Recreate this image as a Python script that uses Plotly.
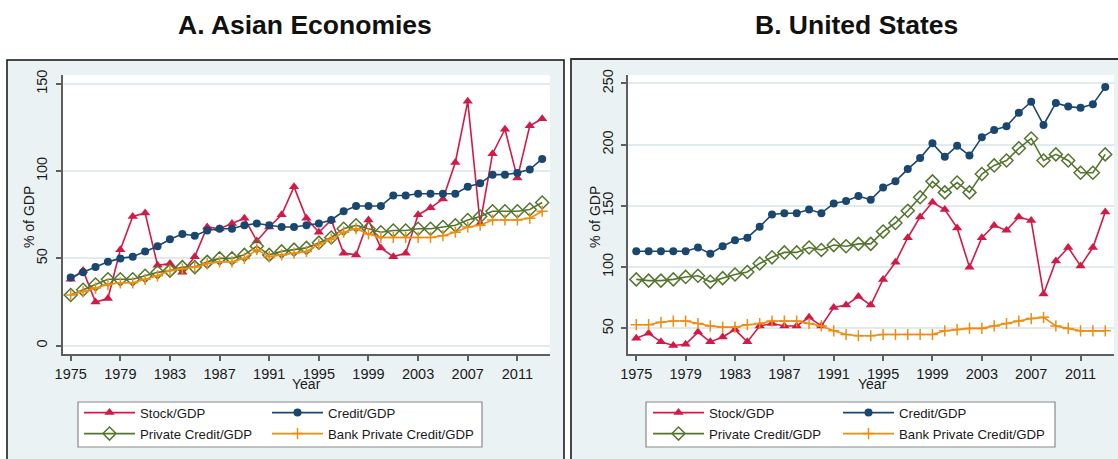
import plotly.graph_objects as go

W, H = 1118, 459

years = list(range(1975, 2014))
tick_years = list(range(1975, 2012, 4))

# ---- Panel A: Asian Economies ----
asia_stock = [38, 43, 25, 27, 55, 74, 76, 46, 47, 42, 51, 68, 67, 70, 73, 60, 68, 75, 91, 73,
              65, 72, 53, 52, 72, 56, 51, 53, 75, 79, 84, 105, 140, 70, 110, 124, 96, 126, 130]
asia_credit = [39, 42, 45, 48, 50, 51, 54, 57, 61, 64, 63, 66, 67, 67, 69, 70, 69, 68, 68, 69,
               70, 72, 77, 80, 80, 80, 86, 86, 87, 87, 87, 87, 91, 93, 98, 98, 99, 101, 107]
asia_private = [29, 32, 35, 38, 38, 38, 40, 42, 43, 45, 45, 48, 50, 50, 52, 57, 52, 54, 55, 56,
                59, 62, 67, 69, 67, 65, 66, 66, 67, 67, 68, 69, 72, 74, 77, 77, 77, 78, 82]
asia_bank = [29, 31, 33, 35, 36, 36, 38, 40, 43, 44, 45, 47, 48, 48, 50, 55, 51, 52, 53, 54,
             58, 61, 65, 67, 64, 62, 62, 62, 62, 62, 63, 65, 68, 69, 72, 72, 72, 73, 77]

# ---- Panel B: United States ----
us_stock = [42, 46, 39, 36, 37, 47, 39, 43, 49, 39, 52, 54, 52, 52, 59, 52, 67, 69, 76, 69,
            90, 104, 124, 141, 153, 147, 132, 100, 124, 134, 130, 141, 138, 78, 105, 116, 101, 116, 145]
us_credit = [113, 113, 113, 113, 113, 116, 111, 117, 122, 124, 133, 143, 144, 144, 147, 144, 152, 154, 158, 155,
             165, 170, 180, 189, 201, 190, 199, 191, 206, 212, 215, 226, 235, 216, 234, 231, 230, 233, 247]
us_private = [90, 89, 89, 90, 92, 93, 88, 91, 94, 96, 103, 108, 112, 112, 116, 114, 118, 117, 119, 119,
              129, 136, 146, 157, 170, 161, 169, 161, 176, 183, 187, 197, 205, 187, 192, 187, 177, 177, 192]
us_bank = [53, 53, 55, 56, 56, 54, 52, 51, 51, 53, 54, 56, 56, 56, 54, 52, 48, 45, 44, 44,
           45, 45, 45, 45, 45, 48, 49, 50, 50, 52, 54, 56, 58, 59, 52, 50, 48, 48, 48]

series_names = ["Stock/GDP", "Credit/GDP", "Private Credit/GDP", "Bank Private Credit/GDP"]

RED = "#D11A48"
NAVY = "#1A476F"
GREEN = "#55752F"
ORANGE = "#EE8D10"
BG = "#EAF2F3"
GRID = "#E1EBEE"
AXIS = "#5E5E5E"
FONT = "Liberation Sans, Arial, sans-serif"

styles = [
    dict(color=RED, symbol="triangle-up", size=9, line=dict(width=0)),
    dict(color=NAVY, symbol="circle", size=8, line=dict(width=0)),
    dict(color=GREEN, symbol="diamond-open", size=10, line=dict(color=GREEN, width=1.5)),
    dict(color=ORANGE, symbol="cross-thin-open", size=8, line=dict(color=ORANGE, width=1.5)),
]
line_colors = [RED, NAVY, GREEN, ORANGE]


def px_x(p):
    return p / W


def px_y(p):
    return 1 - p / H


fig = go.Figure()

# each panel has two one-row legends (row 1: first two series, row 2: last two)
panels = [
    ([asia_stock, asia_credit, asia_private, asia_bank], "x", "y",
     ["legend", "legend", "legend2", "legend2"], [122, 170, 122, 170]),
    ([us_stock, us_credit, us_private, us_bank], "x2", "y2",
     ["legend3", "legend3", "legend4", "legend4"], [124, 170, 124, 170]),
]
for data, xa, ya, lgs, lws in panels:
    for name, vals, st, lc, lg, lw in zip(series_names, data, styles, line_colors, lgs, lws):
        fig.add_trace(go.Scatter(
            x=years, y=vals, name=name, mode="lines+markers",
            line=dict(color=lc, width=1.6),
            marker=st, xaxis=xa, yaxis=ya, legend=lg, legendwidth=lw,
        ))

# plot area pixel geometry
A_x0, A_x1 = 63, 550
B_x0, B_x1 = 628, 1114
P_y0, P_y1 = 75, 354

axis_common = dict(
    showline=True, linecolor=AXIS, linewidth=1.5, mirror=False,
    ticks="outside", ticklen=5, tickwidth=1.5, tickcolor=AXIS,
    tickfont=dict(family=FONT, size=14.5, color="#1a1a1a"),
    zeroline=False,
)

fig.update_layout(
    xaxis=dict(domain=[px_x(A_x0), px_x(A_x1)], range=[1974.38, 2013.63], anchor="y",
               tickvals=tick_years, showgrid=False, ticklabelstandoff=1, **axis_common),
    yaxis=dict(domain=[px_y(P_y1), px_y(P_y0)], range=[-4.8, 155.1], anchor="x",
               tickvals=[0, 50, 100, 150], tickangle=-90, showgrid=True, ticklabelstandoff=3,
               gridcolor=GRID, gridwidth=2, **axis_common),
    xaxis2=dict(domain=[px_x(B_x0), px_x(B_x1)], range=[1974.33, 2013.71], anchor="y2",
                tickvals=tick_years, showgrid=False, ticklabelstandoff=1, **axis_common),
    yaxis2=dict(domain=[px_y(P_y1), px_y(P_y0)], range=[29.1, 256.8], anchor="x2",
                tickvals=[50, 100, 150, 200, 250], tickangle=-90, showgrid=True, ticklabelstandoff=2,
                gridcolor=GRID, gridwidth=2, **axis_common),
)

legend_common = dict(
    orientation="h", xanchor="left", yanchor="middle",
    bgcolor="rgba(0,0,0,0)", borderwidth=0,
    font=dict(family=FONT, size=13.2, color="#1a1a1a"),
    itemwidth=51, tracegroupgap=0,
    itemclick=False, itemdoubleclick=False,
)
fig.update_layout(
    legend=dict(x=px_x(79), y=px_y(413), **legend_common),
    legend2=dict(x=px_x(79), y=px_y(434), **legend_common),
    legend3=dict(x=px_x(648), y=px_y(413), **legend_common),
    legend4=dict(x=px_x(648), y=px_y(434), **legend_common),
)

shapes = []
# outer panel boxes
shapes.append(dict(type="rect", xref="paper", yref="paper", x0=px_x(7), x1=px_x(564),
                   y0=px_y(475), y1=px_y(60), fillcolor=BG, line=dict(color="#111111", width=1.5),
                   layer="below"))
shapes.append(dict(type="rect", xref="paper", yref="paper", x0=px_x(571), x1=px_x(1125),
                   y0=px_y(475), y1=px_y(59), fillcolor=BG, line=dict(color="#333333", width=1.8),
                   layer="below"))
# white plot regions
for x0, x1 in [(A_x0, A_x1), (B_x0, B_x1)]:
    shapes.append(dict(type="rect", xref="paper", yref="paper", x0=px_x(x0), x1=px_x(x1),
                       y0=px_y(P_y1), y1=px_y(P_y0), fillcolor="white", line=dict(width=0),
                       layer="below"))
# legend boxes
for x0, x1 in [(78, 482), (646, 1055)]:
    shapes.append(dict(type="rect", xref="paper", yref="paper", x0=px_x(x0), x1=px_x(x1),
                       y0=px_y(447), y1=px_y(402), fillcolor="white",
                       line=dict(color="#8a8a8a", width=1.2), layer="below"))
fig.update_layout(shapes=shapes)

ann = []
ann.append(dict(text="<b>A. Asian Economies</b>", x=px_x(305), y=px_y(25), xref="paper", yref="paper",
                showarrow=False, font=dict(family=FONT, size=26.5, color="#111111"),
                xanchor="center", yanchor="middle"))
ann.append(dict(text="<b>B. United States</b>", x=px_x(856), y=px_y(25), xref="paper", yref="paper",
                showarrow=False, font=dict(family=FONT, size=26.5, color="#111111"),
                xanchor="center", yanchor="middle"))
for xc in [29, 595]:
    ann.append(dict(text="% of GDP", x=px_x(xc), y=px_y(217), xref="paper", yref="paper",
                    showarrow=False, textangle=-90, font=dict(family=FONT, size=14, color="#1a1a1a"),
                    xanchor="center", yanchor="middle"))
for xc in [306, 872]:
    ann.append(dict(text="Year", x=px_x(xc), y=px_y(384), xref="paper", yref="paper",
                    showarrow=False, font=dict(family=FONT, size=14, color="#1a1a1a"),
                    xanchor="center", yanchor="middle"))
fig.update_layout(annotations=ann)

fig.update_layout(
    width=W, height=H, margin=dict(l=0, r=0, t=0, b=0, autoexpand=False),
    paper_bgcolor="white", plot_bgcolor="rgba(0,0,0,0)",
    showlegend=True,
)

fig.write_html(
    "out.html",
    config={"displayModeBar": False},
    post_script="document.body.style.margin='0';document.body.style.overflow='hidden';",
)
